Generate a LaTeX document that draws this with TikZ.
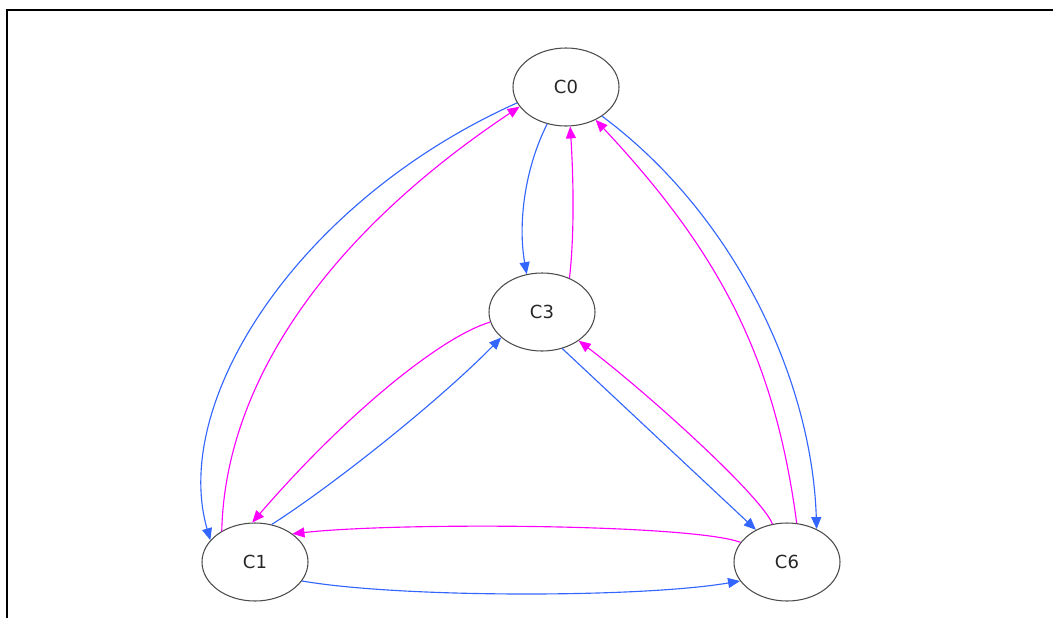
\documentclass[tikz,border=0pt]{standalone}
\usepackage{fontspec}
\setmainfont{DejaVu Sans}
\usetikzlibrary{arrows.meta,shapes.geometric}
\definecolor{eblue}{RGB}{51,102,255}
\definecolor{emag}{RGB}{255,0,255}
\begin{document}
\begin{tikzpicture}[x=0.75pt,y=-0.75pt,
  state/.style={ellipse,draw=black!70,line width=0.8pt,minimum width=79.5pt,minimum height=58.5pt,inner sep=0pt,text=black!85,font=\fontsize{13.5}{16}\selectfont},
  be/.style={draw=eblue,line width=0.85pt,-{Triangle[length=9pt,width=7.5pt]}},
  me/.style={draw=emag,line width=0.85pt,-{Triangle[length=9pt,width=7.5pt]}}]
\useasboundingbox (0,0) rectangle (1053,618);
\coordinate (fTR) at (1053,10);
\coordinate (fTL) at (7,10);
\coordinate (fBL) at (7,618);
\draw[line width=1.5pt] (fBL) -- (fTL) -- (fTR);

\node[state] (C0) at (566,87) {C0};
\node[state] (C3) at (542,312) {C3};
\node[state] (C1) at (255,562) {C1};
\node[state] (C6) at (787,562) {C6};

\draw[be] (C0.243) .. controls (524,170) and (518,225) .. (C3.112);
\draw[me] (C3.51) .. controls (575,230) and (573,170) .. (C0.276);
\draw[be] (C0.198) .. controls (300,200) and (170,400) .. (C1.154);
\draw[me] (C1.137) .. controls (225,389) and (320,240) .. (C0.203);
\draw[be] (C0.321) .. controls (735,215) and (812,380) .. (C6.48);
\draw[me] (C6.76) .. controls (775,360) and (722,255) .. (C0.312);
\draw[me] (C3.191) .. controls (440,337) and (344,416) .. (C1.94);
\draw[be] (C1.66) .. controls (335,484) and (440,400) .. (C3.212);
\draw[be] (C3.299) -- (C6.134);
\draw[me] (C6.111) .. controls (762,497) and (650,395) .. (C3.322);
\draw[me] (C6.157) .. controls (690,524) and (400,522) .. (C1.37);
\draw[be] (C1.338) .. controls (400,598) and (640,598) .. (C6.202);
\end{tikzpicture}
\end{document}
